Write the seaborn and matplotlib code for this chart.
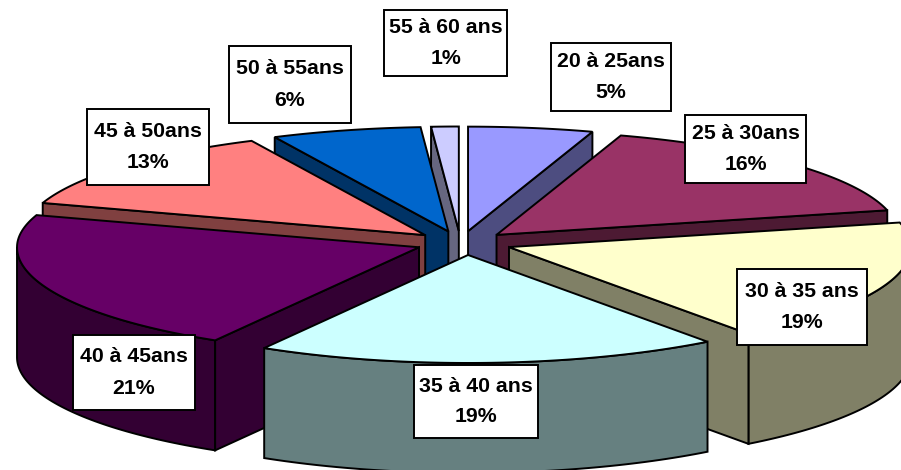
import numpy as np
import matplotlib
matplotlib.use("Agg")
import matplotlib.pyplot as plt
from matplotlib.patches import Rectangle
import seaborn as sns

# ---- data -------------------------------------------------------------
categories = ["20 à 25ans", "25 à 30ans", "30 à 35 ans", "35 à 40 ans",
              "40 à 45ans", "45 à 50ans", "50 à 55ans", "55 à 60 ans"]
shares = [5.0, 16.2, 18.6, 18.6, 21.49, 12.9, 6.0, 1.1]
top_colors = ["#9999FF", "#993366", "#FFFFCC", "#CCFFFF",
              "#660066", "#FF8080", "#0066CC", "#CCCCFF"]

# ---- layout (pixels of the 901x470 canvas) ------------------------------
CX, CY = 463, 243        # pie centre
RX = 402                 # top-face ellipse radius, horizontal
RY_BACK, RY_FRONT = 104.5, 108   # vertical radius behind / in front of centre
EX, EY = 48, 12          # explode distance
SKEW = 2.5               # view skew: front slices lean right
DEPTH = 110              # extrusion height
LW = 1.4
label_boxes = [(551, 43, 671, 111), (685, 115, 806, 183), (737, 269, 867, 345),
               (414, 365, 538, 438), (73, 335, 195, 410), (87, 109, 209, 185),
               (229, 46, 351, 123), (384, 10, 507, 76)]

sns.set_theme(style="white")
plt.rcParams["font.family"] = ["Liberation Sans", "DejaVu Sans"]
palette = sns.color_palette(top_colors)
side_palette = [tuple(c * 0.5 for c in col) for col in palette]

fig, ax = plt.subplots(figsize=(9.01, 4.70), dpi=100)
ax.set_position([0, 0, 1, 1])
ax.set_xlim(0, 901)
ax.set_ylim(470, 0)
ax.axis("off")

fractions = np.asarray(shares) / np.sum(shares)
edges = np.concatenate([[0.0], np.cumsum(fractions) * 2 * np.pi])
starts, ends = edges[:-1], edges[1:]
mids = (starts + ends) / 2


def rim(ax_x, ax_y, theta):
    c = np.cos(theta)
    return ax_x + RX * np.sin(theta), ax_y - np.where(c > 0, RY_BACK, RY_FRONT) * c


def poly(xs, ys, color, z):
    ax.fill(xs, ys, facecolor=color, edgecolor="black", linewidth=LW,
            joinstyle="miter", zorder=z)


# painter's order: slices whose middle lies further back are drawn first
order = np.argsort(-np.cos(mids))
for z, i in enumerate(order):
    t0, t1 = starts[i], ends[i]
    ax0 = CX + EX * np.sin(mids[i]) - SKEW * np.cos(mids[i])
    ay0 = CY - EY * np.cos(mids[i])
    base = 2 + z * 0.01

    # outer wall: only the part of the rim that faces the viewer
    lo, hi = max(t0, np.pi / 2), min(t1, 3 * np.pi / 2)
    if hi > lo:
        th = np.linspace(lo, hi, 60)
        x, y = rim(ax0, ay0, th)
        poly(np.r_[x, x[::-1]], np.r_[y, y[::-1] + DEPTH], side_palette[i], base)

    # radial walls, culled when they face away
    for theta, visible in ((t0, np.sin(t0) < 0), (t1, np.sin(t1) > 0)):
        if visible:
            rx, ry = rim(ax0, ay0, theta)
            poly([ax0, rx, rx, ax0], [ay0, ry, ry + DEPTH, ay0 + DEPTH],
                 side_palette[i], base)

    # top face
    th = np.linspace(t0, t1, 80)
    x, y = rim(ax0, ay0, th)
    poly(np.r_[ax0, x], np.r_[ay0, y], palette[i], base + 0.005)

# labels
for name, share, (x0, y0, x1, y1) in zip(categories, shares, label_boxes):
    ax.add_patch(Rectangle((x0, y0), x1 - x0, y1 - y0, facecolor="white",
                           edgecolor="black", linewidth=LW, zorder=5))
    ax.text((x0 + x1) / 2, (y0 + y1) / 2, f"{name}\n{round(share):d}%",
            ha="center", va="center", fontsize=15.3, fontweight="bold",
            color="black", linespacing=1.8, zorder=6)

fig.savefig("out.png", dpi=100, facecolor="white")
